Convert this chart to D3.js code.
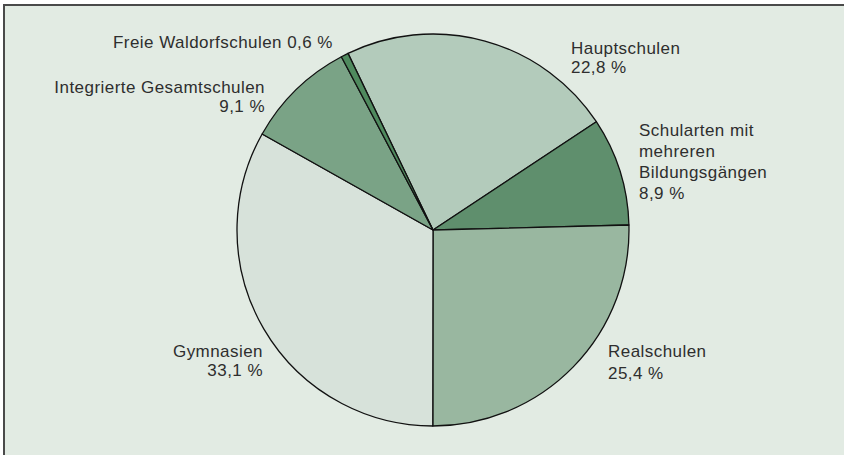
<!DOCTYPE html>
<html>
<head>
<meta charset="utf-8">
<script src="https://cdn.jsdelivr.net/npm/d3@7"></script>
<style>
    body { margin: 0; background: #ffffff; }
    svg { display: block; }
    .label { font-family: "Liberation Sans", Arial, sans-serif; font-size: 17px; letter-spacing: 0.45px; fill: #2e2e2e; }
</style>
</head>
<body>
<div id="chart"></div>
<script>
// Schüler nach Schularten (Anteile in %), clockwise from Hauptschulen
const categories = [
    "Hauptschulen",
    "Schularten mit mehreren Bildungsgängen",
    "Realschulen",
    "Gymnasien",
    "Integrierte Gesamtschulen",
    "Freie Waldorfschulen"
];
const shares = [22.8, 8.9, 25.4, 33.1, 9.1, 0.6];
const shareLabels = ["22,8 %", "8,9 %", "25,4 %", "33,1 %", "9,1 %", "0,6 %"];
const labelLines = [
    ["Hauptschulen", "22,8 %"],
    ["Schularten mit", "mehreren", "Bildungsgängen", "8,9 %"],
    ["Realschulen", "25,4 %"],
    ["Gymnasien", "33,1 %"],
    ["Integrierte Gesamtschulen", "9,1 %"],
    ["Freie Waldorfschulen 0,6 %"]
];
const sliceColors = ["#b3cbbb", "#5f8f6d", "#99b7a0", "#d7e2da", "#7aa386", "#4f8a5e"];

const config = {
    width: 844,
    height: 455,
    cx: 433,
    cy: 230,
    radius: 196,
    startDeg: -25.7
};

// label placement: anchor point, text-anchor, line spacing
const labelPos = [
    { x: 571, y: 53.5, anchor: "start", lh: 19 },
    { x: 639, y: 135.5, anchor: "start", lh: 21 },
    { x: 608, y: 357, anchor: "start", lh: 22 },
    { x: 263, y: 356.5, anchor: "end", lh: 19 },
    { x: 265, y: 92.5, anchor: "end", lh: 19 },
    { x: 113, y: 47.5, anchor: "start", lh: 19 }
];

const svg = d3.select("#chart")
    .append("svg")
    .attr("width", config.width)
    .attr("height", config.height);

// framed panel, open to the right and bottom
svg.append("rect")
    .attr("x", 4)
    .attr("y", 5)
    .attr("width", config.width + 20)
    .attr("height", config.height + 20)
    .attr("fill", "#e2ebe3")
    .attr("stroke", "#4a4a4a")
    .attr("stroke-width", 2);

const data = categories.map((c, i) => ({ name: c, value: shares[i], label: shareLabels[i], lines: labelLines[i] }));

const start = config.startDeg * Math.PI / 180;
const pie = d3.pie()
    .sort(null)
    .value(d => d.value)
    .startAngle(start)
    .endAngle(start + 2 * Math.PI);

const arc = d3.arc()
    .innerRadius(0)
    .outerRadius(config.radius);

const chart = svg.append("g")
    .attr("transform", `translate(${config.cx}, ${config.cy})`);

chart.selectAll(".slice")
    .data(pie(data))
    .join("path")
    .attr("class", "slice")
    .attr("d", arc)
    .attr("fill", (d, i) => sliceColors[i])
    .attr("stroke", "#111")
    .attr("stroke-width", 1.3)
    .attr("stroke-linejoin", "round");

const labels = svg.selectAll(".label")
    .data(data)
    .join("text")
    .attr("class", "label")
    .attr("x", (d, i) => labelPos[i].x)
    .attr("y", (d, i) => labelPos[i].y)
    .attr("text-anchor", (d, i) => labelPos[i].anchor);

labels.each(function (d, i) {
    const p = labelPos[i];
    d3.select(this).selectAll("tspan")
        .data(d.lines)
        .join("tspan")
        .attr("x", p.x)
        .attr("dy", (l, j) => j === 0 ? 0 : p.lh)
        .text(l => l);
});
</script>
</body>
</html>
